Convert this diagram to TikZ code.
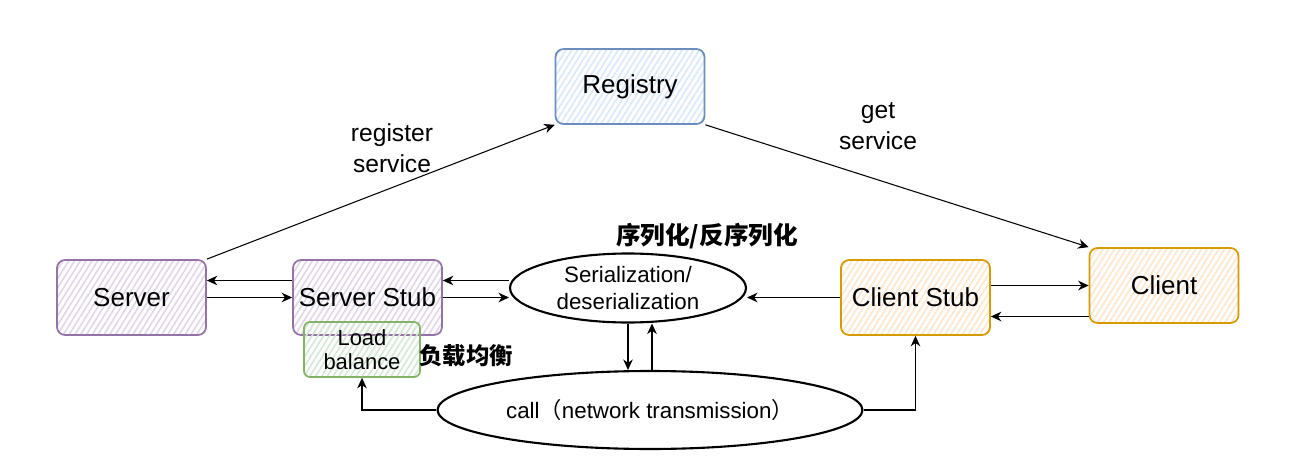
\documentclass[tikz,border=0pt]{standalone}
\usepackage{fontspec}
\setmainfont{Liberation Sans}
\newfontfamily\cjk{Noto Sans CJK SC}
\usetikzlibrary{arrows.meta,shapes.geometric,patterns.meta}

\definecolor{purfill}{HTML}{E1D5E7}
\definecolor{purline}{HTML}{9673A6}
\definecolor{grnfill}{HTML}{D5E8D4}
\definecolor{grnline}{HTML}{82B366}
\definecolor{blufill}{HTML}{DAE8FC}
\definecolor{bluline}{HTML}{6C8EBF}
\definecolor{orgfill}{HTML}{FFE6CC}
\definecolor{orgline}{HTML}{D79B00}

\begin{document}
\begin{tikzpicture}[x=0.02cm,y=-0.02cm,
    >={Stealth[length=6pt,width=5.5pt]},
    box/.style={draw, rounded corners=0.16cm, line width=1pt, inner sep=0pt,
        minimum width=2.98cm, minimum height=1.5cm, font=\fontsize{14.8}{17}\selectfont},
    hatch/.style={pattern={Lines[angle=58,distance=2.8pt,line width=0.9pt]}, pattern color=#1},
    oval/.style={ellipse, draw, line width=1.2pt, inner sep=0pt, align=center,
        font=\fontsize{12.7}{15.5}\selectfont},
    link/.style={->, line width=0.6pt},
    tag/.style={align=center, font=\fontsize{14}{17.5}\selectfont},
    cntag/.style={font=\fontsize{#1}{#1}\selectfont\cjk\bfseries}]
    \fill[white] (0,0) rectangle (1309,473);
    % boxes
    \node[box, draw=bluline, hatch=blufill] (reg) at (630,86.5) {Registry};
    \node[box, draw=purline, hatch=purfill] (srv) at (131.5,297.5) {Server};
    \node[box, draw=purline, hatch=purfill] (sstub) at (367.5,297.5) {Server Stub};
    \node[box, draw=grnline, hatch=grnfill, minimum width=2.32cm, minimum height=1.1cm,
        rounded corners=0.12cm, align=center, font=\fontsize{12.5}{13.5}\selectfont] (lb) at (362,349.5) {Load\\balance};
    \node[box, draw=orgline, hatch=orgfill] (cstub) at (915.5,297.5) {Client Stub};
    \node[box, draw=orgline, hatch=orgfill] (cli) at (1164,285.5) {Client};
    % ellipses
    \node[oval, minimum width=4.72cm, minimum height=1.38cm] (ser) at (628,288) {Serialization/\\deserialization};
    \node[oval, minimum width=8.5cm, minimum height=1.56cm] (call) at (650,410) {call{\cjk （}network transmission{\cjk ）}};
    % labels
    \node[tag] (regtxt) at (392,148) {register\\service};
    \node[tag] (gettxt) at (878,126) {get\\service};
    \node[cntag=14] (sertxt) at (707,236) {序列化/反序列化};
    \node[cntag=13.3] (lbtxt) at (466,356) {负载均衡};
    % connectors
    \draw[link] (srv.north east) -- (reg.south west);
    \draw[link] (reg.south east) -- (cli.north west);
    \draw[link] ([yshift=0.34cm]sstub.west) -- ([yshift=0.34cm]srv.east);
    \draw[link] (srv.east) -- (sstub.west);
    \draw[link] ([yshift=0.34cm]sstub.east -| ser.west) -- ([yshift=0.34cm]sstub.east);
    \draw[link] (sstub.east) -- (sstub.east -| ser.west);
    \draw[link] (cstub.west) -- (cstub.west -| ser.east);
    \draw[link] (cli.west -| cstub.east) -- (cli.west);
    \draw[link] ([yshift=-0.62cm]cli.west) -- ([yshift=-0.62cm]cli.west -| cstub.east);
    \draw[link] (ser.south) -- (ser.south |- call.north);
    \draw[link] ([xshift=0.04cm]call.north) -- ([xshift=0.04cm]call.north |- ser.south);
    \draw[link] (call.west) -| (lb.south);
    \draw[link] (call.east) -| (cstub.south);
\end{tikzpicture}
\end{document}
